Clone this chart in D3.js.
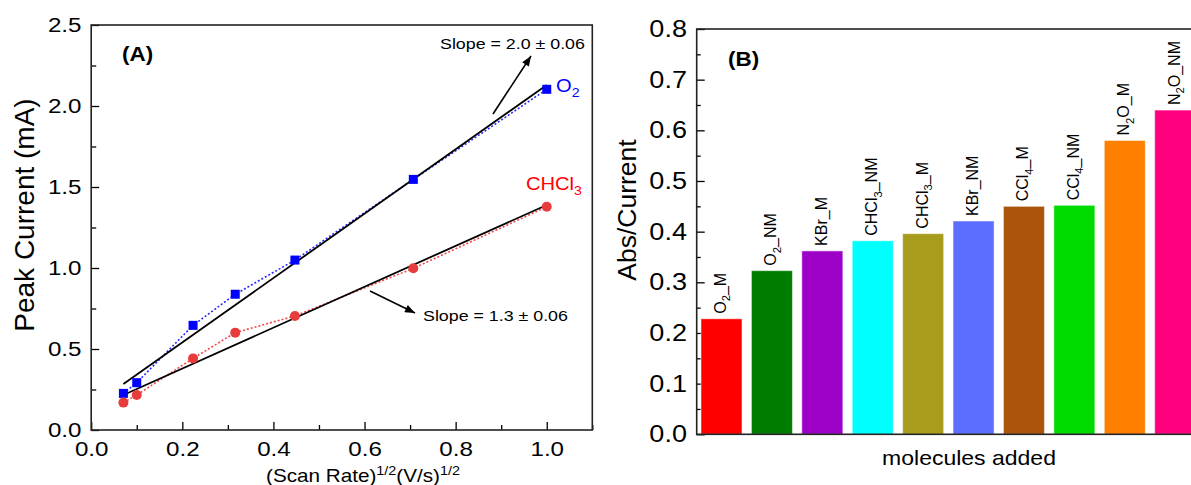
<!DOCTYPE html>
<html>
<head>
<meta charset="utf-8">
<script src="https://cdn.jsdelivr.net/npm/d3@7"></script>
<style>
  body { margin: 0; background: #fff; }
  svg { display: block; font-family: "Liberation Sans", Arial, sans-serif; }
</style>
</head>
<body>
<div id="viz"></div>
<script>
// ---- panel A : peak current vs sqrt(scan rate)
const scanRate = [0.0707, 0.1, 0.2236, 0.3162, 0.4472, 0.7071, 1.0];
const o2Current = [0.226, 0.292, 0.646, 0.838, 1.049, 1.547, 2.103];
const chcl3Current = [0.169, 0.216, 0.442, 0.601, 0.704, 0.998, 1.378];
const o2Fit = [[0.0707, 0.284], [1.0, 2.13]];
const chcl3Fit = [[0.0707, 0.216], [1.0, 1.389]];
const xTicksA = [0, 0.2, 0.4, 0.6, 0.8, 1.0];
const xMinorA = [0.1, 0.3, 0.5, 0.7, 0.9, 1.1];
const yTicksA = [0, 0.5, 1.0, 1.5, 2.0, 2.5];
const yMinorA = [0.25, 0.75, 1.25, 1.75, 2.25];

// ---- panel B : abs/current per molecule
const molecules = ["O2_M", "O2_NM", "KBr_M", "CHCl3_NM", "CHCl3_M", "KBr_NM", "CCl4_M", "CCl4_NM", "N2O_M", "N2O_NM"];
const absCurrent = [0.228, 0.323, 0.362, 0.382, 0.396, 0.421, 0.450, 0.452, 0.580, 0.640];
const barColors = ["#ff0000", "#007d00", "#9d00c6", "#00ffff", "#a89c1c", "#5b6eff", "#ab550c", "#00dc00", "#ff8000", "#ff007f"];
const yTicksB = [0, 0.1, 0.2, 0.3, 0.4, 0.5, 0.6, 0.7, 0.8];
const yMinorB = [0.05, 0.15, 0.25, 0.35, 0.45, 0.55, 0.65, 0.75];

const width = 1191, height = 485;
const wide = 1.15; // the original's horizontal lettering is a bit wider than Arial

const svg = d3.select("#viz").append("svg")
  .attr("width", width)
  .attr("height", height);

const defs = svg.append("defs");
defs.append("marker")
  .attr("id", "arrow")
  .attr("viewBox", "0 0 10 8")
  .attr("refX", 10).attr("refY", 4)
  .attr("markerWidth", 11).attr("markerHeight", 8)
  .attr("markerUnits", "userSpaceOnUse")
  .attr("orient", "auto")
  .append("path").attr("d", "M0,0 L10,4 L0,8 Z").attr("fill", "#000");

// chemical names: digits drawn as subscripts
function chemText(sel, label, fs) {
  const parts = label.match(/\d+|\D+/g);
  let shifted = false;
  parts.forEach(p => {
    const t = sel.append("tspan").text(p);
    if (/\d/.test(p)) {
      t.attr("font-size", fs * 0.7).attr("dy", fs * 0.28);
      shifted = true;
    } else if (shifted) {
      t.attr("dy", -fs * 0.28);
      shifted = false;
    }
  });
}

// horizontal label, slightly widened
function label(g, x, y, fs) {
  return g.append("text")
    .attr("transform", `translate(${x},${y}) scale(${wide},1)`)
    .attr("font-size", fs);
}

function styleAxis(g, fs) {
  g.select(".domain").remove();
  g.selectAll(".tick line").attr("stroke", "#000").attr("stroke-width", 1.3);
  g.selectAll(".tick text").attr("font-size", fs).attr("fill", "#000")
    .attr("font-family", "Liberation Sans, Arial, sans-serif")
    .attr("transform", `scale(${wide},1)`);
}

// ================= panel A =================
const xA = d3.scaleLinear().domain([0, 1.1]).range([91.2, 592.3]);
const yA = d3.scaleLinear().domain([0, 2.5]).range([430, 25]);
const gA = svg.append("g");

gA.append("g").attr("transform", "translate(0,430)")
  .call(d3.axisBottom(xA).tickValues(xMinorA).tickSizeInner(-5).tickSizeOuter(0).tickFormat(""))
  .call(g => styleAxis(g, 21));
gA.append("g").attr("transform", "translate(0,430)")
  .call(d3.axisBottom(xA).tickValues(xTicksA).tickSizeInner(-8).tickSizeOuter(0).tickPadding(11).tickFormat(d3.format(".1f")))
  .call(g => styleAxis(g, 21));
gA.append("g").attr("transform", "translate(91.2,0)")
  .call(d3.axisLeft(yA).tickValues(yMinorA).tickSizeInner(-5).tickSizeOuter(0).tickFormat(""))
  .call(g => styleAxis(g, 21));
gA.append("g").attr("transform", "translate(91.2,0)")
  .call(d3.axisLeft(yA).tickValues(yTicksA).tickSizeInner(-8).tickSizeOuter(0).tickPadding(8.5).tickFormat(d3.format(".1f")))
  .call(g => styleAxis(g, 21));

gA.append("rect")
  .attr("x", xA(0)).attr("y", yA(2.5))
  .attr("width", xA(1.1) - xA(0)).attr("height", yA(0) - yA(2.5))
  .attr("fill", "none").attr("stroke", "#222").attr("stroke-width", 1.6);

const lineA = d3.line().x(d => xA(d[0])).y(d => yA(d[1]));
const o2Pts = scanRate.map((x, i) => [x, o2Current[i]]);
const chPts = scanRate.map((x, i) => [x, chcl3Current[i]]);

gA.append("path").datum(o2Pts).attr("d", lineA)
  .attr("fill", "none").attr("stroke", "#2a2aff").attr("stroke-width", 1.6).attr("stroke-dasharray", "2,2");
gA.append("path").datum(chPts).attr("d", lineA)
  .attr("fill", "none").attr("stroke", "#f04848").attr("stroke-width", 1.6).attr("stroke-dasharray", "2,2");

gA.append("path").datum(o2Fit).attr("d", lineA)
  .attr("fill", "none").attr("stroke", "#000").attr("stroke-width", 1.8);
gA.append("path").datum(chcl3Fit).attr("d", lineA)
  .attr("fill", "none").attr("stroke", "#000").attr("stroke-width", 1.8);

gA.selectAll("rect.o2").data(o2Pts).enter().append("rect").attr("class", "o2")
  .attr("x", d => xA(d[0]) - 4.5).attr("y", d => yA(d[1]) - 4.5)
  .attr("width", 9).attr("height", 9).attr("fill", "#0000ff");
gA.selectAll("circle.ch").data(chPts).enter().append("circle").attr("class", "ch")
  .attr("cx", d => xA(d[0])).attr("cy", d => yA(d[1]))
  .attr("r", 5).attr("fill", "#e83c3c");

// arrows and slope notes
gA.append("line").attr("x1", 493).attr("y1", 114).attr("x2", 531).attr("y2", 56)
  .attr("stroke", "#000").attr("stroke-width", 1.6).attr("marker-end", "url(#arrow)");
gA.append("line").attr("x1", 370).attr("y1", 291).attr("x2", 415).attr("y2", 313)
  .attr("stroke", "#000").attr("stroke-width", 1.6).attr("marker-end", "url(#arrow)");
label(gA, 440, 48.5, 15.5).text("Slope = 2.0 ± 0.06");
label(gA, 423, 320.5, 15.5).text("Slope = 1.3 ± 0.06");

label(gA, 122, 61, 19.5).attr("font-weight", "bold").text("(A)");
chemText(label(gA, 556, 92, 17.5).attr("fill", "#0000ff"), "O2", 17.5);
chemText(label(gA, 526, 190, 17.5).attr("fill", "#ff0000"), "CHCl3", 17.5);

gA.append("text")
  .attr("transform", "translate(34,215) rotate(-90)")
  .attr("text-anchor", "middle").attr("font-size", 28)
  .text("Peak Current (mA)");

const xTitle = label(gA, 363, 482, 18).attr("text-anchor", "middle");
xTitle.append("tspan").text("(Scan Rate)");
xTitle.append("tspan").attr("font-size", 12.5).attr("dy", -7).text("1/2");
xTitle.append("tspan").attr("dy", 7).text("(V/s)");
xTitle.append("tspan").attr("font-size", 12.5).attr("dy", -7).text("1/2");

// ================= panel B =================
const xB = d3.scaleBand().domain(molecules).range([696.7, 1200])
  .paddingInner(0.186).paddingOuter(0.085);
const yB = d3.scaleLinear().domain([0, 0.8]).range([434.3, 29]);
const gB = svg.append("g");

gB.append("g").attr("transform", "translate(696.7,0)")
  .call(d3.axisLeft(yB).tickValues(yMinorB).tickSizeInner(-4).tickSizeOuter(0).tickFormat(""))
  .call(g => styleAxis(g, 23.5));
gB.append("g").attr("transform", "translate(696.7,0)")
  .call(d3.axisLeft(yB).tickValues(yTicksB).tickSizeInner(-8).tickSizeOuter(0).tickPadding(8.5).tickFormat(d3.format(".1f")))
  .call(g => styleAxis(g, 23.5));

gB.selectAll("rect.bar").data(molecules).enter().append("rect").attr("class", "bar")
  .attr("x", d => xB(d)).attr("width", xB.bandwidth())
  .attr("y", (d, i) => yB(absCurrent[i]))
  .attr("height", (d, i) => yB(0) - yB(absCurrent[i]))
  .attr("fill", (d, i) => barColors[i])
  .attr("stroke", "#fff").attr("stroke-opacity", 0.5).attr("stroke-width", 1);

gB.append("rect")
  .attr("x", 696.7).attr("y", yB(0.8))
  .attr("width", 1200 - 696.7).attr("height", yB(0) - yB(0.8))
  .attr("fill", "none").attr("stroke", "#222").attr("stroke-width", 1.6);

molecules.forEach((m, i) => {
  const cx = xB(m) + xB.bandwidth() / 2;
  const t = gB.append("text")
    .attr("transform", `translate(${cx + 4.5},${yB(absCurrent[i]) - 5}) rotate(-90)`)
    .attr("font-size", 16);
  chemText(t, m, 16);
});

label(gB, 728, 66, 19.5).attr("font-weight", "bold").text("(B)");

gB.append("text")
  .attr("transform", "translate(636,210) rotate(-90)")
  .attr("text-anchor", "middle").attr("font-size", 26.5)
  .text("Abs/Current");

label(gB, 969, 465, 20).attr("text-anchor", "middle").text("molecules added");
</script>
</body>
</html>
